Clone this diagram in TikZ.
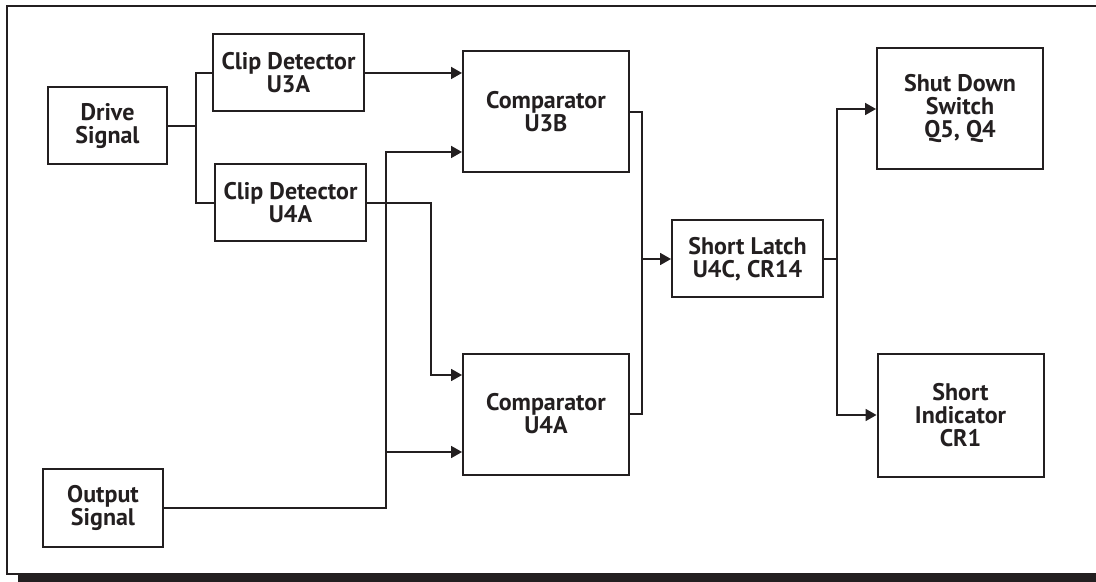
\documentclass[tikz,border=0pt]{standalone}
\usepackage{fontspec}
\setmainfont{PT Sans}
\usepackage{tikz}
\usetikzlibrary{arrows.meta,positioning,calc}
\usepackage{xcolor}
\definecolor{inkdark}{RGB}{35,31,32}
\tikzset{
  block/.style={rectangle,draw=inkdark,line width=1pt,align=center,inner sep=2pt,
    font=\fontsize{12}{11.5}\selectfont\bfseries,text=inkdark},
  smallblock/.style={block,minimum width=75.5pt,minimum height=38.5pt},
  bigblock/.style={block,minimum width=83pt,minimum height=60.5pt},
  wire/.style={draw=inkdark,line width=0.9pt}
}

\begin{document}
\begin{tikzpicture}[x=0.5pt,y=-0.5pt,>={Triangle[length=5.5pt,width=6pt]}]
  \useasboundingbox (0,0) rectangle (1096,582);
  % frame with shadow
  \fill[inkdark] (18,574) rectangle (1100,582);
  \draw[inkdark,line width=1.4pt] (7,6) rectangle (1100,574);
  % blocks
  \node[block,minimum width=59.5pt,minimum height=38.5pt] (drive) at (107.5,126) {Drive\\Signal};
  \node[block,minimum width=60pt,minimum height=39pt]     (outsig) at (103,508) {Output\\Signal};
  \node[smallblock] (clipA) at (288.5,73) {Clip Detector\\U3A};
  \node[smallblock] (clipB) at (290.5,203) {Clip Detector\\U4A};
  \node[bigblock]   (compA) at (546,112) {Comparator\\U3B};
  \node[bigblock]   (compB) at (546,414) {Comparator\\U4A};
  \node[smallblock] (latch) at (747.5,259) {Short Latch\\U4C, CR14};
  \node[bigblock]   (shut)  at (960,109) {Shut Down\\Switch\\Q5, Q4};
  \node[bigblock,minimum height=61.5pt] (ind) at (960.5,415) {Short\\Indicator\\CR1};
  % junction points
  \coordinate (jd) at (196,126);
  \coordinate (jc) at (431,375);
  \coordinate (jo) at (386,152);
  \coordinate (jb) at (386,452);
  \coordinate (jm) at (642,259);
  \coordinate (jl) at (837,259);
  % connectors
  \draw[wire] (drive.east) -- (jd);
  \draw[wire] (jd) |- (clipA.west);
  \draw[wire] (jd) |- (clipB.west);
  \draw[wire,->] (clipA.east) -- (clipA.east -| compA.west);
  \draw[wire,->] (clipB.east) -| (jc) -- (jc -| compB.west);
  \draw[wire,->] (outsig.east) -| (jo) -- (jo -| compA.west);
  \draw[wire,->] (jb) -- (jb -| compB.west);
  \draw[wire] (compA.east) -| (jm) |- (compB.east);
  \draw[wire,->] (jm) -- (latch.west);
  \draw[wire] (latch.east) -- (jl);
  \draw[wire,->] (jl) |- (shut.west);
  \draw[wire,->] (jl) |- (ind.west);
\end{tikzpicture}
\end{document}
